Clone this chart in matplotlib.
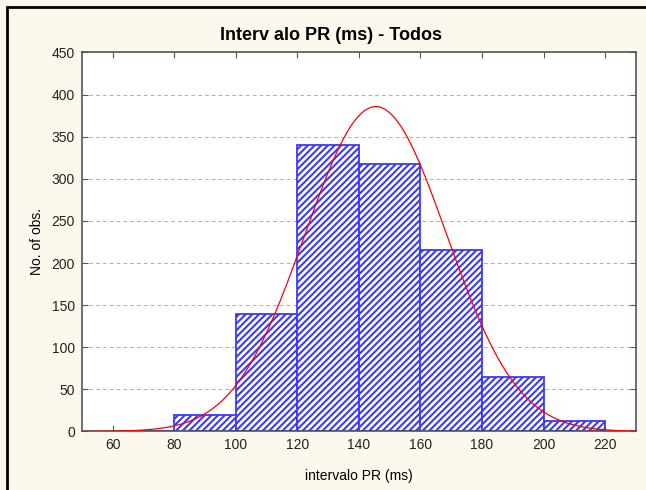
import numpy as np
import matplotlib.pyplot as plt
from matplotlib.patches import Rectangle

# histogram of PR interval with fitted normal curve
bin_edges = [60, 80, 100, 120, 140, 160, 180, 200, 220]
counts = [1, 20, 139, 340, 318, 216, 65, 13]
fit_mean = 145.5
fit_sd = 23.0
yticks = [0, 50, 100, 150, 200, 250, 300, 350, 400, 450]
xticks = [60, 80, 100, 120, 140, 160, 180, 200, 220]

plt.rcParams['font.family'] = ['Liberation Sans', 'DejaVu Sans']
plt.rcParams['hatch.linewidth'] = 1.5
plt.rcParams['hatch.color'] = '#0000ff'

fig = plt.figure(figsize=(6.46, 4.90), dpi=100, facecolor='#fdf8ee')
fig.patches.append(Rectangle((7 / 646, -0.1), 1.2, 1 - 7 / 490 + 0.1,
                             transform=fig.transFigure, fill=False,
                             edgecolor='black', linewidth=2))
ax = fig.add_axes([0.1265, 0.1194, 0.8580, 0.7735])
ax.set_facecolor('white')

widths = np.diff(bin_edges)
ax.bar(bin_edges[:-1], counts, width=widths, align='edge', color='white',
       edgecolor='#3a3aff', linewidth=1.3, hatch='/////', zorder=2)

# fitted normal, scaled to counts per bin
total = sum(counts)
xs = np.linspace(50, 230, 400)
ys = total * 20 / (fit_sd * np.sqrt(2 * np.pi)) * np.exp(-0.5 * ((xs - fit_mean) / fit_sd) ** 2)
ax.plot(xs, ys, color='red', linewidth=0.9, zorder=3)

ax.set_xlim(50, 230)
ax.set_ylim(0, 450)
ax.set_xticks(xticks)
ax.set_yticks(yticks)
ax.yaxis.grid(True, linestyle=(0, (4, 3)), color='#b0b0b0', linewidth=0.7)
ax.set_axisbelow(True)
ax.tick_params(direction='in', length=4, top=True, right=True, labelsize=10,
               colors='#555555', labelcolor='#222222', pad=5)
for s in ax.spines.values():
    s.set_color('#555555')
    s.set_linewidth(1.2)

ax.set_title('Interv alo PR (ms) - Todos', fontsize=13, fontweight='bold', pad=9, x=0.45)
ax.set_xlabel('intervalo PR (ms)', fontsize=10, labelpad=12)
ax.set_ylabel('No. of obs.', fontsize=10, labelpad=5)

fig.savefig('out.png', dpi=100, facecolor=fig.get_facecolor())
